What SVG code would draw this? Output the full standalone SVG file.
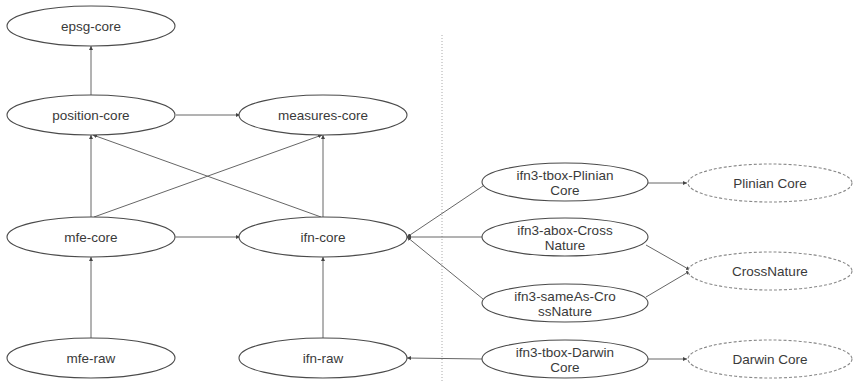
<svg xmlns="http://www.w3.org/2000/svg" width="853" height="382" viewBox="0 0 853 382">
<style>
  .n ellipse { fill: #fff; stroke: #4a4a4a; stroke-width: 1.1; }
  .ext ellipse { stroke: #888; stroke-dasharray: 3 2; }
  .n text { font-family: "Liberation Sans", Arial, sans-serif; font-size: 13.5px; fill: #3a3a3a; text-anchor: middle; }
  #edges line { stroke: #666; stroke-width: 1; fill: none; }
  .sep { stroke: #aaa; stroke-width: 1; stroke-dasharray: 1 2; }
</style>
<defs>
  <marker id="ah" viewBox="0 0 6 6" refX="6" refY="3" markerWidth="4" markerHeight="4" orient="auto" markerUnits="userSpaceOnUse">
    <path d="M0,0 L6,3 L0,6 z" fill="#444"/>
  </marker>
</defs>
<rect width="853" height="382" fill="#fff"/>
<line class="sep" x1="442" y1="35" x2="442" y2="382"/>
<g id="edges">
  <line x1="91" y1="95" x2="91" y2="46" marker-end="url(#ah)"/>
  <line x1="176" y1="115" x2="240" y2="115" marker-end="url(#ah)"/>
  <line x1="91" y1="217" x2="91" y2="135" marker-end="url(#ah)"/>
  <line x1="94" y1="217" x2="322" y2="135" marker-end="url(#ah)"/>
  <line x1="321" y1="217" x2="93" y2="135" marker-end="url(#ah)"/>
  <line x1="323" y1="217" x2="323" y2="135" marker-end="url(#ah)"/>
  <line x1="176" y1="237" x2="240" y2="237" marker-start="url(#ah)" marker-end="url(#ah)"/>
  <line x1="91" y1="338" x2="91" y2="257" marker-end="url(#ah)"/>
  <line x1="323" y1="338" x2="323" y2="257" marker-end="url(#ah)"/>
  <line x1="483" y1="186" x2="407" y2="237" marker-end="url(#ah)"/>
  <line x1="482" y1="237" x2="407" y2="237" marker-end="url(#ah)"/>
  <line x1="483" y1="299" x2="407" y2="237" marker-end="url(#ah)"/>
  <line x1="648" y1="183" x2="687" y2="183" marker-end="url(#ah)"/>
  <line x1="646" y1="245" x2="690" y2="270" marker-end="url(#ah)"/>
  <line x1="646" y1="297" x2="690" y2="271" marker-end="url(#ah)"/>
  <line x1="482" y1="359" x2="407" y2="358" marker-end="url(#ah)"/>
  <line x1="648" y1="359" x2="687" y2="359" marker-end="url(#ah)"/>
</g>
<g id="epsg-core" class="n"><ellipse cx="91" cy="26" rx="84" ry="20"/><text x="91" y="31">epsg-core</text></g>
<g id="position-core" class="n"><ellipse cx="91" cy="115" rx="84" ry="20"/><text x="91" y="120">position-core</text></g>
<g id="measures-core" class="n"><ellipse cx="323" cy="115" rx="84" ry="20"/><text x="323" y="120">measures-core</text></g>
<g id="mfe-core" class="n"><ellipse cx="91" cy="237" rx="84" ry="20"/><text x="91" y="242">mfe-core</text></g>
<g id="ifn-core" class="n"><ellipse cx="323" cy="237" rx="84" ry="20"/><text x="323" y="242">ifn-core</text></g>
<g id="mfe-raw" class="n"><ellipse cx="91" cy="358" rx="84" ry="20"/><text x="91" y="363">mfe-raw</text></g>
<g id="ifn-raw" class="n"><ellipse cx="323" cy="358" rx="84" ry="20"/><text x="323" y="363">ifn-raw</text></g>
<g id="ifn3-tbox-Plinian-Core" class="n"><ellipse cx="565" cy="182" rx="83" ry="19"/><text x="565" y="180">ifn3-tbox-Plinian</text><text x="565" y="195">Core</text></g>
<g id="ifn3-abox-CrossNature" class="n"><ellipse cx="565" cy="237" rx="83" ry="19"/><text x="565" y="235">ifn3-abox-Cross</text><text x="565" y="250">Nature</text></g>
<g id="ifn3-sameAs-CrossNature" class="n"><ellipse cx="565" cy="303" rx="83" ry="19"/><text x="565" y="301">ifn3-sameAs-Cro</text><text x="565" y="316">ssNature</text></g>
<g id="ifn3-tbox-Darwin-Core" class="n"><ellipse cx="565" cy="359" rx="83" ry="19"/><text x="565" y="357">ifn3-tbox-Darwin</text><text x="565" y="372">Core</text></g>
<g id="Plinian-Core" class="n ext"><ellipse cx="770" cy="183" rx="82" ry="19"/><text x="770" y="188">Plinian Core</text></g>
<g id="CrossNature" class="n ext"><ellipse cx="770" cy="271" rx="82" ry="19"/><text x="770" y="276">CrossNature</text></g>
<g id="Darwin-Core" class="n ext"><ellipse cx="770" cy="359" rx="82" ry="19"/><text x="770" y="364">Darwin Core</text></g>
</svg>
